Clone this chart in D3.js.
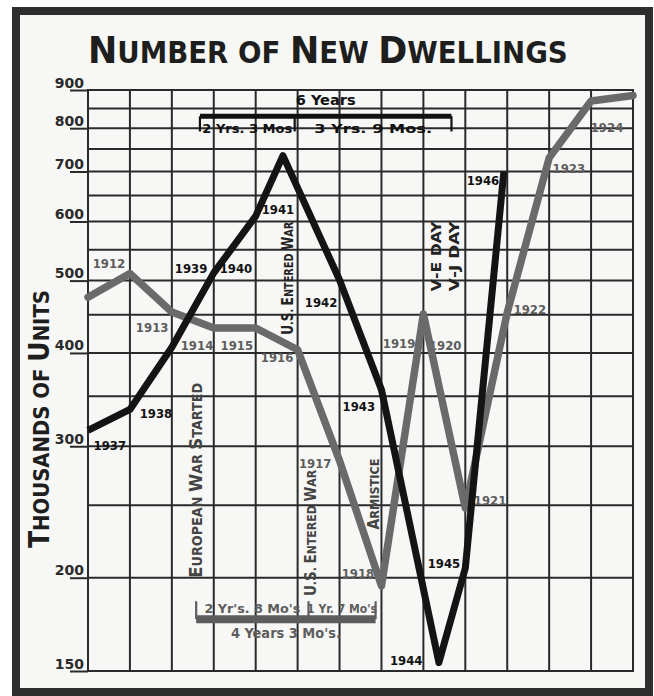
<!DOCTYPE html>
<html><head><meta charset="utf-8">
<script src="https://cdn.jsdelivr.net/npm/d3@7"></script>
<style>
html,body{margin:0;padding:0;background:#fff;}
svg{display:block;}
</style></head><body>
<svg id="chart" width="654" height="696"></svg>
<script>
// ---------------- data ----------------
// World War I era (grey line): annual totals, plotted at the end of each year
const wwiDates = [1912, 1913, 1914, 1915, 1916, 1917, 1918, 1919, 1920, 1921, 1922, 1923, 1924, 1925];
const wwiUnits = [475, 511, 454, 432, 432, 404, 287, 195, 451, 248, 453, 730, 870, 885];
const wwiYearLabels = ["1912","1913","1914","1915","1916","1917","1918","1919","1920","1921","1922","1923","1924"];
const wwiLabelDates = [1912.50, 1913.53, 1914.60, 1915.55, 1916.51, 1917.42, 1918.44, 1919.42, 1920.52, 1921.59, 1922.54, 1923.47, 1924.38];
const wwiLabelUnits = [528, 433, 410, 410, 395, 285, 203, 412, 410, 254, 457, 707, 803];

// World War II era (black line)
const wwiiDates = [1937, 1938, 1939, 1940, 1941, 1941.65, 1943, 1944, 1945.37, 1946, 1946.92];
const wwiiUnits = [315, 336, 407, 512, 610, 735, 501, 357, 154, 206, 700];
const wwiiYearLabels = ["1937","1938","1939","1940","1941","1942","1943","1944","1945","1946"];
const wwiiLabelDates = [1937.52, 1938.62, 1939.46, 1940.53, 1941.53, 1942.56, 1943.46, 1944.59, 1945.49, 1946.42];
const wwiiLabelUnits = [301, 332, 520, 520, 622, 467, 339, 155, 209, 682];

// value axis
const unitTicks = [150, 200, 300, 400, 500, 600, 700, 800, 900];
const gridUnits = [150, 200, 250, 300, 350, 400, 450, 500, 550, 600, 650, 700, 750, 800, 850, 900];
const gridYears = [1912, 1913, 1914, 1915, 1916, 1917, 1918, 1919, 1920, 1921, 1922, 1923, 1924, 1925];

// events
const eventNames = ["European War Started", "U.S. Entered War", "U.S. Entered War", "Armistice", "V-E DAY", "V-J DAY"];
const eventWar   = ["I", "II", "I", "I", "II", "II"];
const eventDates = [1914.58, 1941.93, 1917.26, 1918.86, 1945.35, 1945.62];
const eventFrom  = [200, 423, 189, 232, 484, 484];
const eventTo    = [365, 600, 279, 289, 598, 598];

// duration brackets
const wwiiSpanDates = [1939.67, 1941.93, 1945.67];
const wwiiSpanLabels = ["2 Yrs. 3 Mos", "3 Yrs. 9 Mos."];
const wwiiSpanTotal = "6 Years";
const wwiSpanDates = [1914.58, 1917.26, 1918.86];
const wwiSpanLabels = ["2 Yr's. 8 Mo's", "1 Yr. 7 Mo's"];
const wwiSpanTotal = "4 Years 3 Mo's.";

// ---------------- layout / style ----------------
const INK = "#232323", GREY = "#5d5d5d", PAPER = "#f7f7f5";
const CONDENSED = "'DejaVu Sans Condensed','DejaVu Sans',sans-serif";
const SANS = "'DejaVu Sans',sans-serif";
const eventDx = [-1, -7, 2, -2, -2, 5];
const eventSize = [[18,14],[15,12],[16,13],[16,13],[14,14],[14,14]];

const svg = d3.select("#chart");
const xI  = d3.scaleLinear().domain([1912, 1925]).range([88, 633]);
const xII = d3.scaleLinear().domain([1937, 1950]).range([88, 633]);
const y   = d3.scaleLog().domain([150, 900]).range([671, 90]);

// frame
svg.append("rect").attr("x", 16).attr("y", 11).attr("width", 633).attr("height", 681)
  .attr("fill", PAPER).attr("stroke", "#2e2e2e").attr("stroke-width", 8);

// small-caps helper: uppercase = big letters, lowercase = small capitals
function segs(str, plain) {
  if (plain) return [{ t: str, big: true }];
  const out = [];
  for (const ch of str) {
    const big = /[A-Z]/.test(ch);
    if (out.length && out[out.length - 1].big === big) out[out.length - 1].t += ch.toUpperCase();
    else out.push({ t: ch.toUpperCase(), big });
  }
  return out;
}
function fitted(parent, o) {
  const g = parent.append("g").attr("transform", `translate(${o.x},${o.y}) rotate(${o.rotate || 0})`);
  const t = g.append("text").attr("text-anchor", o.anchor || "start").attr("y", o.baseline || 0)
    .style("font-family", o.family || CONDENSED).style("font-weight", "bold").attr("fill", o.fill || INK);
  segs(o.text, o.plain).forEach(s => t.append("tspan").attr("font-size", s.big ? o.big : o.small).text(s.t));
  if (o.width) {
    const len = t.node().getComputedTextLength();
    if (len > 0) t.attr("transform", `scale(${o.width / len},1)`);
  }
  return g;
}

// grid
const grid = svg.append("g").attr("stroke", "#2a2a2a").attr("stroke-width", 2);
grid.selectAll("line.v").data(gridYears).join("line").attr("class", "v")
  .attr("x1", d => xI(d)).attr("x2", d => xI(d)).attr("y1", y(150) + 1).attr("y2", y(900) - 1);
grid.selectAll("line.h").data(gridUnits).join("line").attr("class", "h")
  .attr("x1", xI(1912) - 1).attr("x2", xI(1925) + 1).attr("y1", d => y(d)).attr("y2", d => y(d));

// value axis
const axis = svg.append("g").attr("transform", `translate(${xI(1912)},0)`)
  .call(d3.axisLeft(y).tickValues(unitTicks).tickSize(18).tickFormat(d3.format("d")));
axis.select(".domain").remove();
axis.selectAll(".tick line").attr("stroke", "#2a2a2a").attr("stroke-width", 2);
axis.selectAll(".tick text").attr("x", -4).attr("dy", -3).attr("fill", "#2a2a2a")
  .style("font-family", SANS).style("font-weight", "bold").style("font-size", "14px");

// titles
fitted(svg, { x: 88, y: 63, text: "Number of New Dwellings", big: 38, small: 30, width: 480, family: SANS, fill: "#1e1e1e" });
fitted(svg, { x: 39, y: 548, rotate: -90, text: "Thousands of Units", big: 28, small: 22, width: 258, baseline: 10, family: SANS, fill: "#1e1e1e" });

// event labels
eventNames.forEach((name, i) => {
  const xs = eventWar[i] === "I" ? xI : xII;
  const [b, s] = eventSize[i];
  fitted(svg, {
    x: xs(eventDates[i]) + eventDx[i], y: y(eventFrom[i]), rotate: -90, text: name,
    big: b, small: s, width: y(eventFrom[i]) - y(eventTo[i]), baseline: 0.36 * b,
    fill: eventWar[i] === "I" ? "#444" : INK
  });
});

// brackets
function bracket(xs, dates, barUnits, tickUnits, width, color) {
  const g = svg.append("g").attr("stroke", color);
  g.append("line").attr("x1", xs(dates[0])).attr("x2", xs(dates[dates.length - 1]))
    .attr("y1", y(barUnits)).attr("y2", y(barUnits)).attr("stroke-width", width);
  g.selectAll("line.t").data(dates).join("line").attr("class", "t")
    .attr("x1", d => xs(d)).attr("x2", d => xs(d))
    .attr("y1", y(barUnits)).attr("y2", y(tickUnits)).attr("stroke-width", 2.2);
}
bracket(xII, wwiiSpanDates, 830, 792, 5, "#111");
bracket(xI, wwiSpanDates, 176, 186, 8, GREY);

fitted(svg, { x: (xII(wwiiSpanDates[0]) + xII(wwiiSpanDates[2])) / 2, y: y(860), anchor: "middle",
  text: wwiiSpanTotal, plain: true, big: 14, width: 60, fill: "#111" });
const wwiiSpanW = [90, 118];
wwiiSpanLabels.forEach((t, i) => fitted(svg, {
  x: (xII(wwiiSpanDates[i]) + xII(wwiiSpanDates[i + 1])) / 2, y: y(789), anchor: "middle",
  text: t, plain: true, big: 13, width: wwiiSpanW[i], fill: "#111" }));
const wwiSpanW = [96, 70];
wwiSpanLabels.forEach((t, i) => fitted(svg, {
  x: (xI(wwiSpanDates[i]) + xI(wwiSpanDates[i + 1])) / 2, y: y(179.4), anchor: "middle",
  text: t, plain: true, big: 13, width: wwiSpanW[i], fill: GREY }));
fitted(svg, { x: (xI(wwiSpanDates[0]) + xI(wwiSpanDates[2])) / 2, y: y(166), anchor: "middle",
  text: wwiSpanTotal, plain: true, big: 14, width: 110, fill: GREY });

// year labels
svg.append("g").selectAll("text").data(wwiYearLabels).join("text")
  .attr("x", (d, i) => xI(wwiLabelDates[i])).attr("y", (d, i) => y(wwiLabelUnits[i]))
  .attr("dy", "0.36em").attr("text-anchor", "middle").attr("fill", GREY)
  .style("font-family", CONDENSED).style("font-weight", "bold").style("font-size", "13px")
  .text(d => d);
svg.append("g").selectAll("text").data(wwiiYearLabels).join("text")
  .attr("x", (d, i) => xII(wwiiLabelDates[i])).attr("y", (d, i) => y(wwiiLabelUnits[i]))
  .attr("dy", "0.36em").attr("text-anchor", "middle").attr("fill", "#111")
  .style("font-family", CONDENSED).style("font-weight", "bold").style("font-size", "13px")
  .text(d => d);

// series lines
const wwiData = wwiDates.map((d, i) => ({ date: d, units: wwiUnits[i] }));
const wwiiData = wwiiDates.map((d, i) => ({ date: d, units: wwiiUnits[i] }));
svg.append("path").datum(wwiData)
  .attr("d", d3.line().x(d => xI(d.date)).y(d => y(d.units)))
  .attr("fill", "none").attr("stroke", "#6a6a6a").attr("stroke-width", 7.5)
  .attr("stroke-linejoin", "round").attr("stroke-linecap", "round");
svg.append("path").datum(wwiiData)
  .attr("d", d3.line().x(d => xII(d.date)).y(d => y(d.units)))
  .attr("fill", "none").attr("stroke", "#141414").attr("stroke-width", 7)
  .attr("stroke-linejoin", "round").attr("stroke-linecap", "butt");
</script>
</body></html>
